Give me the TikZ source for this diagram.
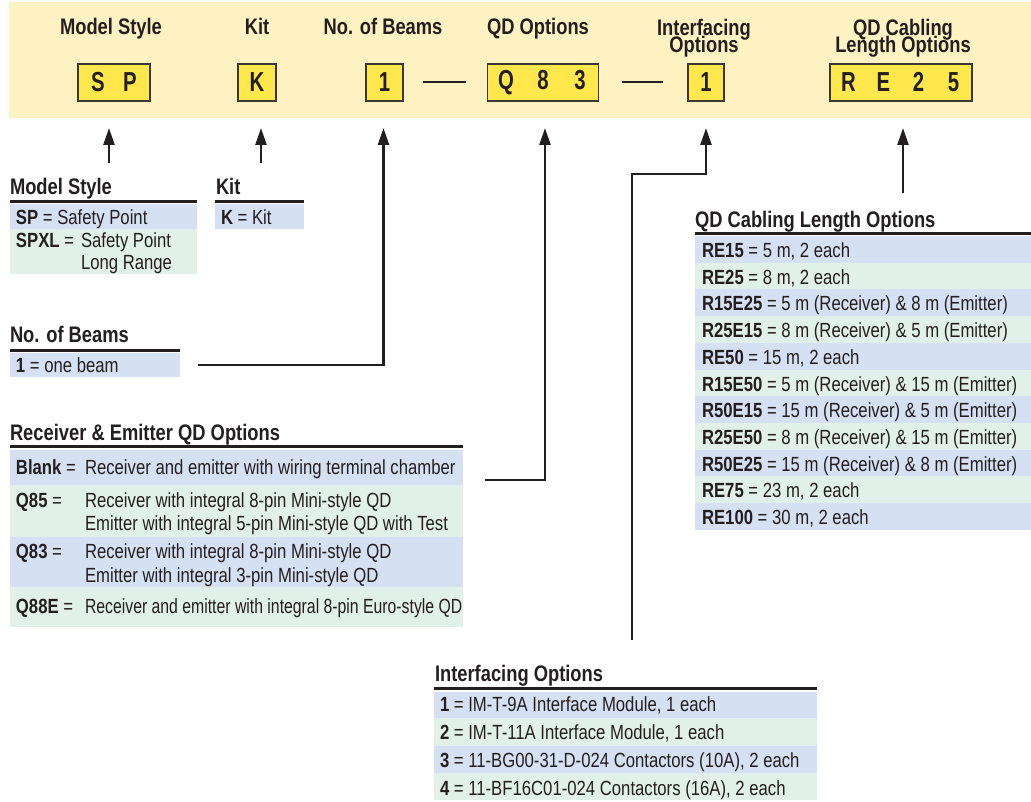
\documentclass[tikz,border=0pt]{standalone}
\usepackage{fontspec}
\setmainfont{Liberation Sans}[FakeStretch=0.815]
\newfontfamily\boxfont{Liberation Sans}[FakeStretch=0.74]
\usetikzlibrary{arrows.meta}
\definecolor{bandc}{RGB}{255,242,194}
\definecolor{boxc}{RGB}{255,231,76}
\definecolor{edgec}{RGB}{60,55,50}
\definecolor{blu}{RGB}{213,225,243}
\definecolor{grn}{RGB}{225,241,234}
\definecolor{ink}{RGB}{35,31,32}
\newcommand{\pc}[2]{\makebox[#1pt]{#2}}
\begin{document}
\begin{tikzpicture}[x=1pt,y=-1pt,
  every node/.style={inner sep=0pt, outer sep=0pt, text=ink},
  hdr/.style={anchor=base, font=\fontsize{22.5}{22.5}\selectfont\bfseries},
  hdrtwo/.style={anchor=north, align=center, font=\fontsize{22.5}{16}\selectfont\bfseries},
  codebox/.style={draw=edgec, line width=1.3pt, fill=boxc, minimum height=37pt, font=\fontsize{27.5}{27.5}\boxfont\bfseries},
  ttl/.style={anchor=base west, font=\fontsize{22.5}{22.5}\selectfont\bfseries},
  txt/.style={anchor=base west, font=\fontsize{20.5}{20.5}\selectfont},
  bgrow/.style={anchor=north west},
  hrule/.style={line width=3.5pt, draw=ink},
  arr/.style={line width=2.4pt, draw=ink, -{Triangle[length=17pt,width=11pt]}},
  dashl/.style={line width=2pt, draw=ink}]
\useasboundingbox (0,0) rectangle (1031,802);

% banner
\node[bgrow, fill=bandc, minimum width=1022pt, minimum height=116pt] (band) at (9,2) {};
\node[hdr] (hMS) at (111,35) {Model Style};
\node[hdr] (hK) at (257,35) {Kit};
\node[hdr] (hN) at (383,35) {No. of Beams};
\node[hdr] (hQ) at (538,35) {QD Options};
\node[hdrtwo] (hI) at (704,19) {Interfacing\\[-4.5pt]Options};
\node[hdrtwo] (hC) at (903,19) {QD Cabling\\[-4.5pt]Length Options};

\node[codebox, minimum width=72pt] (bSP) at (114,82.5) {\pc{32}{S}\pc{32}{P}};
\node[codebox, minimum width=38pt] (bK) at (257,82.5) {K};
\node[codebox, minimum width=37pt] (bN) at (384.5,82.5) {1};
\node[codebox, minimum width=110pt] (bQ) at (543,82.5) {\pc{37}{Q}\pc{37}{8}\pc{37}{3}};
\node[codebox, minimum width=36pt] (bI) at (706,82.5) {1};
\node[codebox, minimum width=142pt] (bR) at (901,82.5) {\pc{35}{R}\pc{35}{E}\pc{35}{2}\pc{35}{5}};
\draw[dashl] ([xshift=20pt]bN.east) -- ([xshift=-22pt]bQ.west);
\draw[dashl] ([xshift=23pt]bQ.east) -- ([xshift=-25pt]bI.west);

% Model Style table
\node[ttl] (tMS) at (10,195) {Model Style};
\draw[hrule] (10,201.5) -- (197,201.5);
\node[bgrow, fill=blu, minimum width=187pt, minimum height=25pt] (rSP) at (10,204) {};
\node[bgrow, fill=grn, minimum width=187pt, minimum height=45pt] (rSPXL) at (10,229) {};
\node[txt] (xSP) at (16,225) {\textbf{SP} = Safety Point};
\node[txt] (xSPXL) at (16,248) {\textbf{SPXL} =};
\node[txt] (xSPXLa) at (81,248) {Safety Point};
\node[txt] (xSPXLb) at (81,270) {Long Range};

% Kit table
\node[ttl] (tK) at (216,195) {Kit};
\draw[hrule] (215,201.5) -- (304,201.5);
\node[bgrow, fill=blu, minimum width=89pt, minimum height=25pt] (rK) at (215,204) {};
\node[txt] (xK) at (221,225) {\textbf{K} = Kit};

% No. of Beams table
\node[ttl] (tN) at (10,343) {No. of Beams};
\draw[hrule] (10,350.5) -- (180,350.5);
\node[bgrow, fill=blu, minimum width=170pt, minimum height=24pt] (rB) at (10,353) {};
\node[txt] (xB) at (16,373) {\textbf{1} = one beam};

% QD options table
\node[ttl] (tQ) at (10,440) {Receiver \& Emitter QD Options};
\draw[hrule] (10,446.5) -- (463,446.5);
\node[bgrow, fill=blu, minimum width=453pt, minimum height=35pt] (rBl) at (10,450) {};
\node[bgrow, fill=grn, minimum width=453pt, minimum height=52pt] (rQ85) at (10,485) {};
\node[bgrow, fill=blu, minimum width=453pt, minimum height=50pt] (rQ83) at (10,537) {};
\node[bgrow, fill=grn, minimum width=453pt, minimum height=40pt] (rQ88) at (10,587) {};
\node[txt] (kBl) at (16,474) {\textbf{Blank} =};
\node[txt] (dBl) at (85,474) {Receiver and emitter with wiring terminal chamber};
\node[txt] (kQ85) at (16,507) {\textbf{Q85} =};
\node[txt] (dQ85a) at (85,507) {Receiver with integral 8-pin Mini-style QD};
\node[txt] (dQ85b) at (85,530) {Emitter with integral 5-pin Mini-style QD with Test};
\node[txt] (kQ83) at (16,558) {\textbf{Q83} =};
\node[txt] (dQ83a) at (85,558) {Receiver with integral 8-pin Mini-style QD};
\node[txt] (dQ83b) at (85,582) {Emitter with integral 3-pin Mini-style QD};
\node[txt] (kQ88) at (16,613) {\textbf{Q88E} =};
\node[txt] (dQ88) at (85,613) {\scalebox{0.945}[1]{Receiver and emitter with integral 8-pin Euro-style QD}};

% QD Cabling table
\node[ttl] (tC) at (695,228) {QD Cabling Length Options};
\draw[hrule] (695,233.5) -- (1031,233.5);
\foreach \i/\c/\k/\d in {
  1/blu/RE15/{5 m, 2 each},
  2/grn/RE25/{8 m, 2 each},
  3/blu/R15E25/{5 m (Receiver) \& 8 m (Emitter)},
  4/grn/R25E15/{8 m (Receiver) \& 5 m (Emitter)},
  5/blu/RE50/{15 m, 2 each},
  6/grn/R15E50/{5 m (Receiver) \& 15 m (Emitter)},
  7/blu/R50E15/{15 m (Receiver) \& 5 m (Emitter)},
  8/grn/R25E50/{8 m (Receiver) \& 15 m (Emitter)},
  9/blu/R50E25/{15 m (Receiver) \& 8 m (Emitter)},
  10/grn/RE75/{23 m, 2 each},
  11/blu/RE100/{30 m, 2 each}} {
  \node[bgrow, fill=\c, minimum width=336pt, minimum height=26.8pt] (cr\i) at (695,{236+26.7*(\i-1)}) {};
  \node[txt] (ct\i) at (702,{257.5+26.7*(\i-1)}) {\textbf{\k} = \d};
}

% Interfacing table
\node[ttl] (tI) at (435,681) {Interfacing Options};
\draw[hrule] (434,688.5) -- (817,688.5);
\node[bgrow, fill=blu, minimum width=383pt, minimum height=26pt] (ir1) at (434,692) {};
\node[bgrow, fill=grn, minimum width=383pt, minimum height=28pt] (ir2) at (434,718) {};
\node[bgrow, fill=blu, minimum width=383pt, minimum height=27pt] (ir3) at (434,746) {};
\node[bgrow, fill=grn, minimum width=383pt, minimum height=27pt] (ir4) at (434,773) {};
\node[txt] (it1) at (440,711) {\textbf{1} = IM-T-9A Interface Module, 1 each};
\node[txt] (it2) at (440,739) {\textbf{2} = IM-T-11A Interface Module, 1 each};
\node[txt] (it3) at (440,767) {\textbf{3} = 11-BG00-31-D-024 Contactors (10A), 2 each};
\node[txt] (it4) at (440,795) {\textbf{4} = 11-BF16C01-024 Contactors (16A), 2 each};

% connectors
\coordinate (msStart) at (109,163);
\coordinate (kStart) at (261,163);
\coordinate (qdStart) at (485,480);
\coordinate (ifStart) at (632,640);
\coordinate (cbStart) at (903,193);
\draw[arr] (msStart) -- ([xshift=-5pt,yshift=-27pt]bSP.south);
\draw[arr] (kStart) -- ([xshift=4pt,yshift=-27pt]bK.south);
\draw[arr] ([xshift=18pt]rB.east) -| ([xshift=-1pt,yshift=-27pt]bN.south);
\draw[arr] (qdStart) -| ([xshift=2pt,yshift=-27pt]bQ.south);
\draw[arr] (ifStart) |- ([yshift=-73pt]bI.south) -- ([yshift=-27pt]bI.south);
\draw[arr] (cbStart) -- ([xshift=2pt,yshift=-27pt]bR.south);
\end{tikzpicture}
\end{document}
